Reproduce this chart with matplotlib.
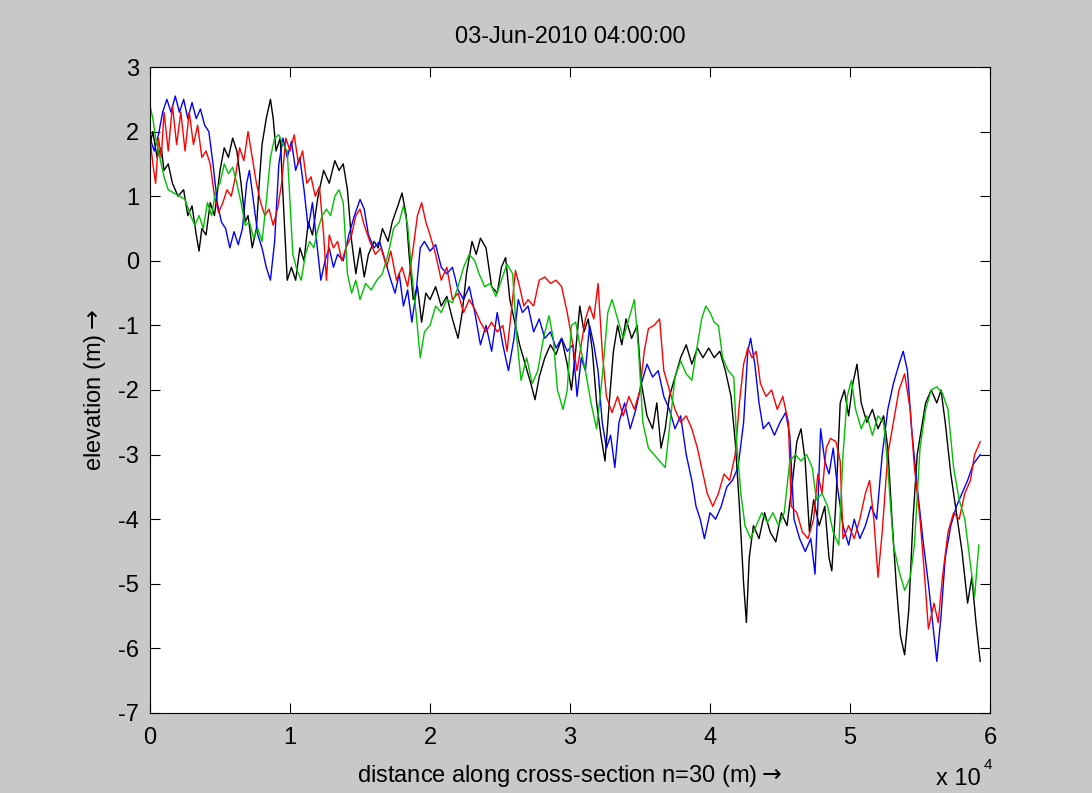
import numpy as np
import matplotlib
matplotlib.use("Agg")
import matplotlib.pyplot as plt

# ============================================================
# data (x in units of 1e4 m, y in m)
# ============================================================
black_x = [0.00, 0.02, 0.05, 0.08, 0.10, 0.13, 0.16, 0.20, 0.24, 0.27, 0.30, 0.33, 0.35, 0.37, 0.40,
           0.43, 0.46, 0.50, 0.53, 0.56, 0.59, 0.62, 0.65, 0.68, 0.70, 0.73, 0.76, 0.78, 0.80, 0.83,
           0.86, 0.88, 0.90, 0.93, 0.95, 0.98, 1.01, 1.04, 1.07, 1.10, 1.13, 1.16, 1.20, 1.24, 1.28,
           1.32, 1.35, 1.38, 1.41, 1.44, 1.47, 1.50, 1.53, 1.56, 1.60, 1.63, 1.66, 1.70, 1.73, 1.77,
           1.80, 1.83, 1.85, 1.88, 1.91, 1.94, 1.97, 2.00, 2.04, 2.08, 2.12, 2.16, 2.20, 2.23, 2.26,
           2.30, 2.33, 2.36, 2.40, 2.44, 2.48, 2.51, 2.54, 2.57, 2.60, 2.64, 2.68, 2.72, 2.75, 2.78,
           2.82, 2.86, 2.90, 2.94, 2.98, 3.01, 3.04, 3.07, 3.10, 3.13, 3.16, 3.19, 3.22, 3.25, 3.28,
           3.31, 3.34, 3.37, 3.40, 3.44, 3.48, 3.51, 3.55, 3.59, 3.62, 3.65, 3.68, 3.71, 3.75, 3.79,
           3.83, 3.87, 3.91, 3.95, 3.99, 4.03, 4.07, 4.11, 4.15, 4.18, 4.21, 4.24, 4.26, 4.28, 4.31,
           4.35, 4.39, 4.43, 4.47, 4.51, 4.55, 4.59, 4.62, 4.65, 4.68, 4.71, 4.74, 4.78, 4.82, 4.85,
           4.87, 4.90, 4.93, 4.96, 4.99, 5.02, 5.05, 5.08, 5.12, 5.16, 5.20, 5.24, 5.27, 5.30, 5.33,
           5.36, 5.39, 5.42, 5.45, 5.48, 5.51, 5.54, 5.58, 5.62, 5.65, 5.68, 5.72, 5.76, 5.80, 5.84,
           5.87, 5.90, 5.93]
black_y = [1.8, 2.0, 1.6, 1.75, 1.4, 1.5, 1.2, 1.0, 1.1, 0.7, 0.85, 0.4, 0.15, 0.5, 0.4,
           0.9, 0.7, 1.4, 1.75, 1.6, 1.9, 1.7, 1.2, 0.6, 0.7, 0.2, 0.5, 1.2, 1.8, 2.2,
           2.5, 2.2, 1.7, 1.9, 1.0, -0.3, -0.1, -0.3, 0.2, 0.0, 0.6, 0.4, 1.0, 1.4, 1.2,
           1.55, 1.4, 1.5, 1.1, 0.3, -0.2, 0.2, -0.25, 0.1, 0.3, 0.2, 0.5, 0.3, 0.6, 0.85,
           1.05, 0.7, 0.1, -0.6, -0.4, -0.95, -0.5, -0.6, -0.4, -0.7, -0.55, -0.9, -1.2, -0.8, -0.2,
           0.3, 0.1, 0.35, 0.2, -0.4, -0.5, -0.1, 0.05, -0.6, -0.9, -1.3, -1.6, -1.9, -2.15, -1.8,
           -1.5, -1.3, -1.45, -1.2, -1.6, -2.0, -1.4, -0.7, -1.1, -0.9, -1.4, -2.2, -2.7, -3.1, -2.2,
           -1.4, -1.0, -1.3, -0.9, -1.2, -1.0, -1.9, -2.4, -2.6, -2.2, -2.9, -2.6, -2.1, -1.8, -1.5,
           -1.3, -1.6, -1.35, -1.5, -1.35, -1.5, -1.4, -1.7, -2.1, -2.8, -3.8, -5.0, -5.6, -4.6, -4.1,
           -4.3, -3.9, -4.2, -4.35, -3.9, -4.1, -3.4, -2.8, -2.6, -3.1, -4.2, -3.7, -4.1, -3.8, -4.6,
           -4.8, -3.7, -2.2, -2.0, -2.4, -1.9, -1.6, -2.2, -2.5, -2.3, -2.6, -2.4, -2.9, -4.0, -5.0,
           -5.8, -6.1, -5.4, -4.0, -3.0, -2.6, -2.2, -2.0, -2.2, -2.0, -2.5, -3.3, -3.9, -4.5, -5.3,
           -4.9, -5.6, -6.2]

blue_x = [0.00, 0.03, 0.06, 0.09, 0.12, 0.15, 0.18, 0.21, 0.24, 0.27, 0.30, 0.33, 0.36, 0.39, 0.42,
          0.45, 0.48, 0.51, 0.54, 0.57, 0.60, 0.63, 0.66, 0.69, 0.71, 0.74, 0.77, 0.80, 0.83, 0.86,
          0.89, 0.92, 0.95, 0.98, 1.01, 1.04, 1.07, 1.10, 1.13, 1.16, 1.19, 1.22, 1.25, 1.28, 1.31,
          1.34, 1.38, 1.42, 1.46, 1.50, 1.53, 1.56, 1.60, 1.64, 1.68, 1.72, 1.75, 1.78, 1.81, 1.84,
          1.87, 1.90, 1.93, 1.96, 2.00, 2.04, 2.08, 2.12, 2.16, 2.20, 2.24, 2.28, 2.32, 2.36, 2.40,
          2.44, 2.48, 2.52, 2.56, 2.60, 2.63, 2.66, 2.70, 2.74, 2.78, 2.82, 2.86, 2.90, 2.94, 2.98,
          3.02, 3.05, 3.08, 3.11, 3.14, 3.17, 3.20, 3.23, 3.26, 3.29, 3.32, 3.35, 3.39, 3.43, 3.47,
          3.51, 3.55, 3.59, 3.63, 3.67, 3.71, 3.75, 3.79, 3.83, 3.87, 3.90, 3.93, 3.96, 4.00, 4.04,
          4.08, 4.12, 4.16, 4.20, 4.24, 4.27, 4.29, 4.32, 4.35, 4.38, 4.42, 4.46, 4.50, 4.54, 4.57,
          4.60, 4.64, 4.68, 4.72, 4.75, 4.77, 4.79, 4.82, 4.85, 4.88, 4.91, 4.95, 4.99, 5.03, 5.07,
          5.11, 5.15, 5.19, 5.23, 5.27, 5.31, 5.35, 5.38, 5.41, 5.44, 5.48, 5.52, 5.56, 5.59, 5.62,
          5.65, 5.68, 5.72, 5.76, 5.80, 5.84, 5.88, 5.93]
blue_y = [1.9, 1.7, 1.95, 2.3, 2.5, 2.3, 2.55, 2.3, 2.5, 2.2, 2.45, 2.2, 2.35, 2.1, 2.0,
          1.5, 0.9, 0.6, 0.5, 0.2, 0.45, 0.25, 0.5, 1.2, 1.4, 0.9, 0.4, 0.2, -0.1, -0.3,
          0.3, 1.5, 1.9, 1.6, 1.85, 1.4, 1.6, 1.1, 0.5, 0.9, 0.3, -0.3, 0.0, 0.2, -0.1,
          0.1, 0.0, 0.4, 0.7, 0.95, 0.8, 0.4, 0.2, 0.3, 0.0, -0.3, -0.5, -0.2, -0.7, -0.45,
          -0.95, -0.5, 0.2, 0.3, 0.15, 0.25, -0.1, -0.2, -0.1, -0.45, -0.6, -0.4, -0.8, -1.3, -1.0,
          -1.4, -0.8, -1.3, -1.7, -1.2, -0.6, -0.8, -0.7, -1.1, -0.9, -1.2, -1.1, -1.35, -1.2, -1.4,
          -1.3, -2.1, -1.5, -1.7, -1.0, -1.3, -1.7, -2.5, -2.9, -2.7, -3.2, -2.5, -2.2, -2.6, -2.3,
          -1.9, -1.6, -1.8, -1.7, -2.1, -2.3, -2.6, -2.4, -3.0, -3.4, -3.8, -4.0, -4.3, -3.9, -4.0,
          -3.8, -3.5, -3.4, -3.2, -2.5, -1.4, -1.2, -1.6, -2.2, -2.6, -2.5, -2.7, -2.5, -2.35, -2.7,
          -4.0, -4.3, -4.5, -4.3, -4.85, -3.8, -2.6, -3.1, -3.3, -2.9, -3.5, -4.1, -4.4, -4.0, -4.3,
          -4.1, -3.8, -4.0, -3.0, -2.3, -1.9, -1.6, -1.4, -1.7, -2.6, -3.5, -4.3, -5.0, -5.6, -6.2,
          -5.5, -4.6, -4.1, -3.8, -3.6, -3.4, -3.15, -3.0]

red_x = [0.00, 0.02, 0.04, 0.06, 0.08, 0.10, 0.13, 0.16, 0.19, 0.22, 0.25, 0.28, 0.31, 0.34, 0.37,
         0.40, 0.43, 0.46, 0.49, 0.52, 0.55, 0.58, 0.61, 0.64, 0.67, 0.70, 0.73, 0.76, 0.79, 0.82,
         0.85, 0.88, 0.91, 0.94, 0.97, 1.00, 1.03, 1.06, 1.09, 1.12, 1.15, 1.18, 1.21, 1.24, 1.26,
         1.28, 1.31, 1.34, 1.37, 1.40, 1.44, 1.47, 1.50, 1.53, 1.57, 1.61, 1.65, 1.69, 1.72, 1.76,
         1.80, 1.84, 1.88, 1.91, 1.94, 1.97, 2.00, 2.04, 2.08, 2.12, 2.16, 2.20, 2.24, 2.28, 2.32,
         2.36, 2.40, 2.44, 2.48, 2.52, 2.55, 2.58, 2.61, 2.64, 2.67, 2.70, 2.74, 2.78, 2.82, 2.86,
         2.90, 2.94, 2.98, 3.02, 3.05, 3.08, 3.11, 3.14, 3.17, 3.20, 3.23, 3.26, 3.30, 3.34, 3.38,
         3.42, 3.46, 3.50, 3.53, 3.56, 3.60, 3.64, 3.67, 3.71, 3.75, 3.79, 3.83, 3.87, 3.91, 3.95,
         3.98, 4.02, 4.06, 4.10, 4.14, 4.18, 4.21, 4.24, 4.27, 4.30, 4.33, 4.36, 4.40, 4.44, 4.48,
         4.52, 4.56, 4.58, 4.62, 4.66, 4.70, 4.74, 4.77, 4.80, 4.83, 4.86, 4.90, 4.93, 4.95, 4.99,
         5.03, 5.07, 5.11, 5.14, 5.17, 5.20, 5.23, 5.27, 5.31, 5.35, 5.39, 5.43, 5.46, 5.50, 5.53,
         5.56, 5.60, 5.63, 5.66, 5.70, 5.74, 5.78, 5.82, 5.86, 5.89, 5.93]
red_y = [1.9, 1.5, 1.2, 1.9, 1.6, 2.3, 1.7, 2.4, 1.8, 2.3, 1.7, 2.3, 1.8, 2.1, 1.6,
         1.7, 1.5, 1.0, 0.75, 0.9, 1.1, 1.0, 1.3, 1.75, 1.55, 2.0, 1.6, 1.2, 0.9, 0.7,
         0.8, 0.55, 0.8, 1.2, 1.9, 1.7, 1.95, 1.5, 1.7, 1.2, 1.3, 1.0, 1.15, 0.4, -0.3,
         0.4, 0.2, 0.3, 0.0, 0.2, 0.4, 0.7, 0.8, 0.55, 0.3, 0.1, 0.2, -0.1, 0.15, -0.3,
         -0.1, -0.4, 0.2, 0.7, 0.9, 0.6, 0.4, 0.1, -0.3, -0.1, -0.6, -0.5, -0.8, -0.6, -0.75,
         -0.95, -1.1, -0.95, -1.1, -1.0, -1.4, -0.8, -0.15, -0.4, -0.7, -0.6, -0.7, -0.3, -0.25, -0.35,
         -0.3, -0.4, -0.8, -1.3, -1.7, -1.3, -0.9, -0.7, -0.9, -0.35, -1.4, -2.1, -2.35, -2.1, -2.4,
         -2.1, -2.3, -2.0, -1.4, -1.05, -1.0, -0.9, -1.7, -2.0, -2.3, -2.5, -2.4, -2.6, -2.9, -3.3,
         -3.6, -3.8, -3.6, -3.3, -3.4, -3.0, -2.2, -1.6, -1.35, -1.5, -1.4, -1.9, -2.1, -2.0, -2.3,
         -2.1, -2.5, -3.8, -3.9, -4.2, -4.3, -4.0, -3.3, -3.6, -2.9, -2.75, -2.8, -3.1, -4.3, -4.1,
         -4.3, -4.0, -3.6, -3.4, -4.0, -4.9, -4.2, -3.0, -2.5, -2.0, -1.75, -2.3, -3.2, -4.0, -4.8,
         -5.7, -5.3, -5.6, -4.9, -4.2, -3.9, -4.0, -3.6, -3.4, -3.0, -2.8]

green_x = [0.00, 0.02, 0.04, 0.07, 0.10, 0.13, 0.17, 0.21, 0.25, 0.29, 0.32, 0.35, 0.38, 0.41, 0.44,
           0.47, 0.50, 0.53, 0.56, 0.59, 0.62, 0.65, 0.68, 0.71, 0.74, 0.77, 0.80, 0.83, 0.86, 0.89,
           0.92, 0.95, 0.98, 1.00, 1.02, 1.05, 1.08, 1.11, 1.14, 1.17, 1.20, 1.23, 1.26, 1.29, 1.32,
           1.35, 1.38, 1.41, 1.44, 1.47, 1.50, 1.54, 1.58, 1.62, 1.66, 1.70, 1.74, 1.78, 1.81, 1.84,
           1.87, 1.90, 1.93, 1.96, 2.00, 2.04, 2.08, 2.12, 2.16, 2.20, 2.24, 2.28, 2.32, 2.35, 2.39,
           2.43, 2.47, 2.51, 2.55, 2.59, 2.62, 2.65, 2.69, 2.73, 2.77, 2.81, 2.85, 2.88, 2.91, 2.95,
           2.98, 3.01, 3.04, 3.07, 3.11, 3.15, 3.19, 3.23, 3.27, 3.30, 3.34, 3.38, 3.42, 3.46, 3.49,
           3.52, 3.56, 3.60, 3.64, 3.68, 3.72, 3.75, 3.79, 3.83, 3.87, 3.91, 3.94, 3.97, 4.00, 4.03,
           4.06, 4.09, 4.13, 4.17, 4.19, 4.22, 4.25, 4.29, 4.33, 4.37, 4.41, 4.45, 4.49, 4.53, 4.57,
           4.61, 4.65, 4.69, 4.73, 4.76, 4.80, 4.84, 4.88, 4.92, 4.95, 4.98, 5.01, 5.04, 5.08, 5.12,
           5.16, 5.20, 5.24, 5.27, 5.31, 5.35, 5.39, 5.43, 5.46, 5.50, 5.54, 5.58, 5.62, 5.66, 5.70,
           5.74, 5.78, 5.82, 5.86, 5.89, 5.92]
green_y = [2.4, 2.2, 1.9, 1.6, 1.3, 1.1, 1.05, 1.0, 0.95, 0.7, 0.55, 0.7, 0.5, 0.9, 0.7,
           1.1, 1.2, 1.5, 1.35, 1.45, 1.2, 0.9, 0.55, 0.6, 0.35, 0.5, 0.3, 0.9, 1.6, 1.9,
           1.95, 1.8, 1.7, 0.9, 0.1, -0.15, -0.3, 0.1, 0.3, 0.2, 0.5, 0.7, 0.8, 0.7, 1.0,
           1.1, 0.9, -0.2, -0.5, -0.3, -0.6, -0.35, -0.45, -0.3, -0.2, 0.1, 0.5, 0.6, 0.85, 0.55,
           -0.2, -0.8, -1.5, -1.1, -1.0, -0.7, -0.8, -0.6, -0.65, -0.4, -0.1, 0.1, 0.0, -0.2, -0.4,
           -0.35, -0.55, -0.3, -0.05, -0.2, -1.2, -1.85, -1.5, -1.9, -1.7, -1.2, -0.85, -1.2, -2.0, -2.3,
           -2.0, -1.0, -0.95, -1.3, -1.7, -2.2, -2.6, -1.8, -0.8, -0.6, -0.9, -1.2, -0.9, -0.6, -1.4,
           -2.5, -2.9, -3.0, -3.1, -3.2, -2.4, -1.8, -1.55, -1.75, -1.85, -1.3, -0.9, -0.7, -0.8, -0.95,
           -1.0, -1.5, -1.7, -1.8, -2.8, -3.6, -4.1, -4.3, -4.1, -3.9, -4.05, -3.9, -4.1, -3.9, -3.1,
           -3.0, -3.1, -3.0, -3.2, -3.7, -3.6, -3.8, -4.2, -4.4, -3.0, -2.1, -1.85, -2.3, -2.6, -2.4,
           -2.7, -2.4, -2.5, -3.2, -4.4, -4.8, -5.1, -4.9, -4.4, -2.9, -2.3, -2.0, -1.95, -2.05, -2.3,
           -3.2, -3.7, -4.0, -4.7, -5.2, -4.4]

title = "03-Jun-2010 04:00:00"
xlabel = "distance along cross-section n=30 (m)$\\rightarrow$"
ylabel = "elevation (m)$\\rightarrow$"
xticks = [0, 1, 2, 3, 4, 5, 6]
yticks = [3, 2, 1, 0, -1, -2, -3, -4, -5, -6, -7]

FONT = ["Liberation Sans", "DejaVu Sans"]
plt.rcParams["font.family"] = FONT
FS = 17

fig = plt.figure(figsize=(10.92, 7.93), dpi=100, facecolor="#c8c8c8")
ax = fig.add_axes([0.1374, 0.1009, 0.7692, 0.8146])
ax.set_facecolor("white")

series = [
    (black_x, black_y, "black"),
    (blue_x, blue_y, "#0000ff"),
    (red_x, red_y, "#ff0000"),
    (green_x, green_y, "#00c000"),
]
for xs, ys, c in series:
    ax.plot(np.array(xs) * 1e4, ys, color=c, lw=1.0)

ax.set_xlim(0, 6e4)
ax.set_ylim(-7, 3)
ax.set_xticks([t * 1e4 for t in xticks])
ax.set_xticklabels([str(t) for t in xticks])
ax.set_yticks(yticks)
ax.set_yticklabels([str(t) for t in yticks])
ax.tick_params(direction="in", length=7.5, width=0.8, top=True, right=True,
               labelsize=FS)
ax.tick_params(axis="x", pad=10)
ax.tick_params(axis="y", pad=8)
for s in ax.spines.values():
    s.set_linewidth(0.8)

ax.set_title(title, fontsize=FS, pad=17)
ax.set_xlabel(xlabel, fontsize=FS, labelpad=10)
ax.set_ylabel(ylabel, fontsize=FS, labelpad=7)
fig.text(0.857, 0.004, "x 10", fontsize=FS, ha="left", va="bottom")
fig.text(0.901, 0.026, "4", fontsize=11, ha="left", va="bottom")

fig.savefig("out.png", dpi=100, facecolor=fig.get_facecolor())
